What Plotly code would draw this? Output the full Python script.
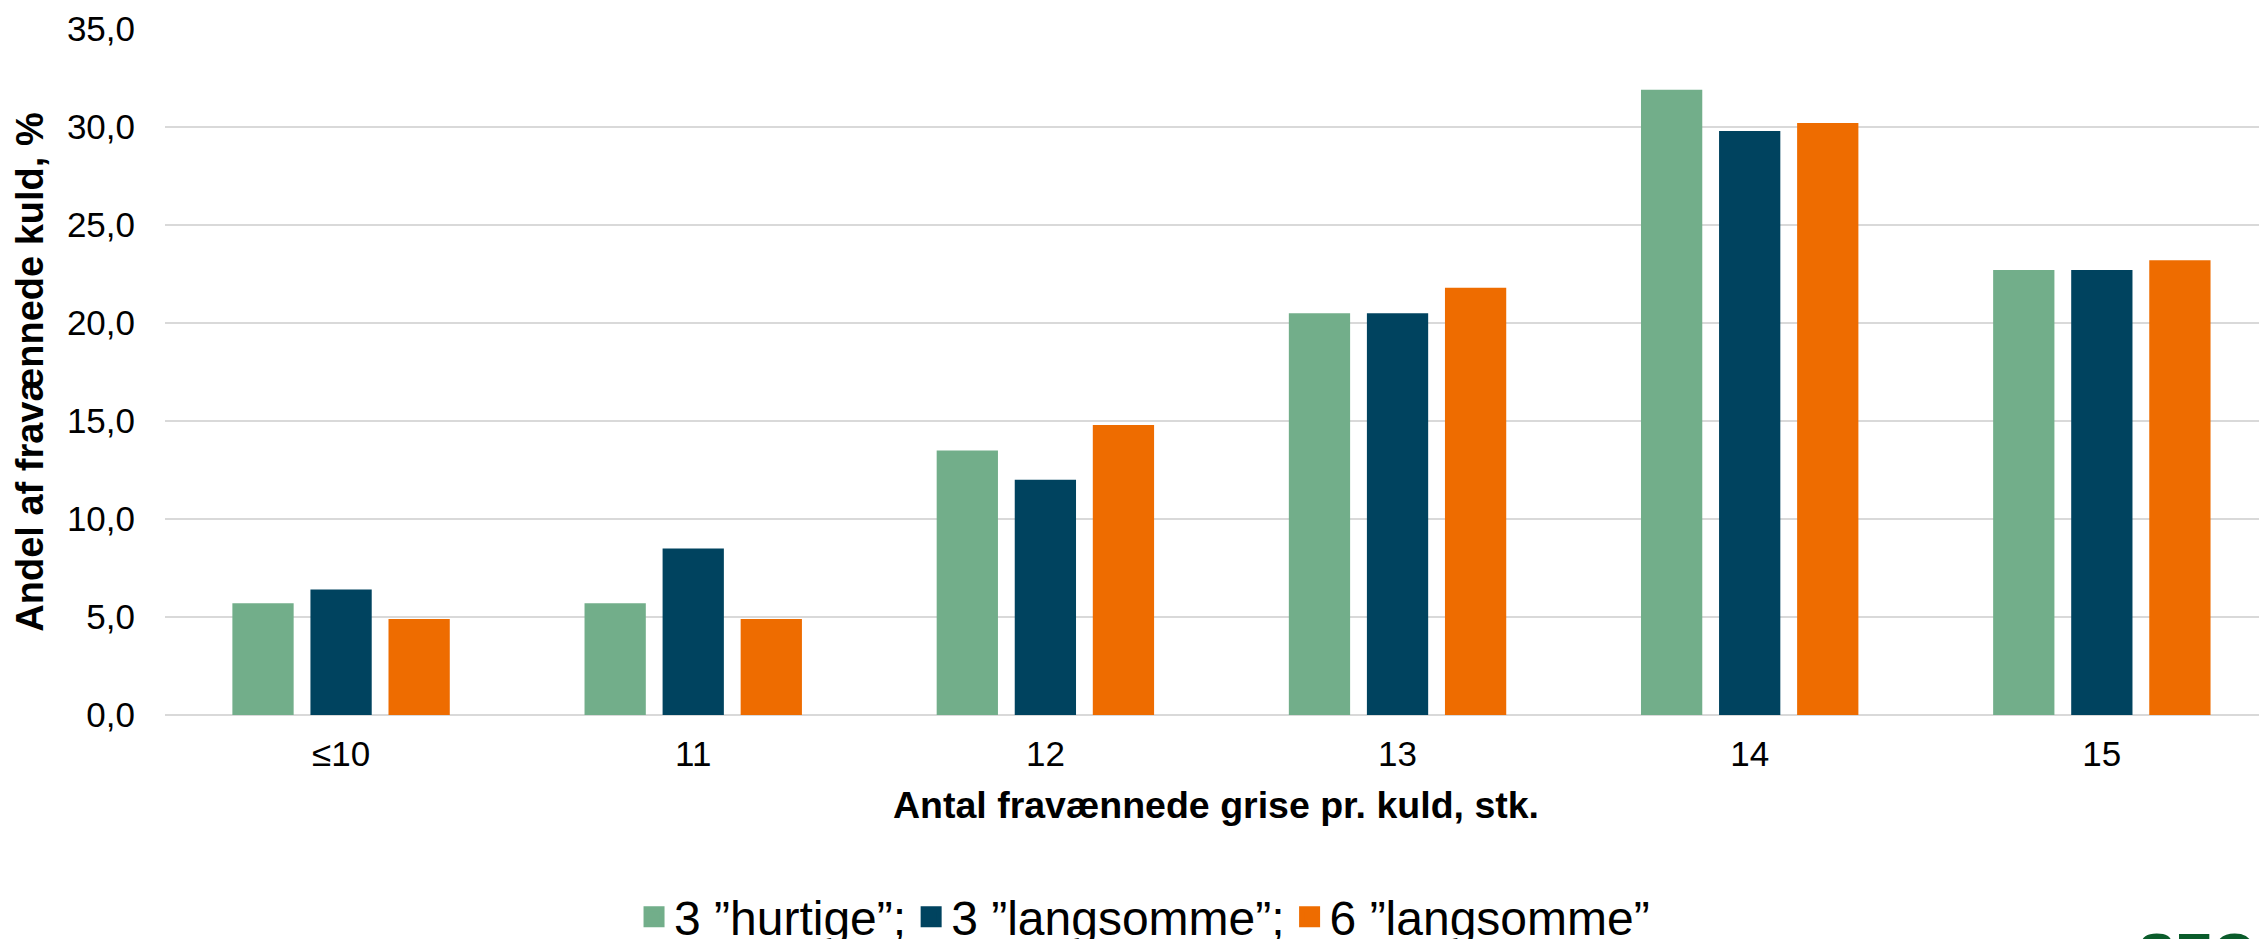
import plotly.graph_objects as go

categories = ["≤10", "11", "12", "13", "14", "15"]
series_names = ["3 ”hurtige”;", "3 ”langsomme”;", "6 ”langsomme”"]
hurtige_3 = [5.7, 5.7, 13.5, 20.5, 31.9, 22.7]
langsomme_3 = [6.4, 8.5, 12.0, 20.5, 29.8, 22.7]
langsomme_6 = [4.9, 4.9, 14.8, 21.8, 30.2, 23.2]
y_ticks = [0, 5, 10, 15, 20, 25, 30, 35]

colors = ["#72AE8A", "#00435F", "#EE6C00"]
FONT = "Liberation Sans, Arial, sans-serif"

fig = go.Figure()
for name, vals, col in zip(series_names, [hurtige_3, langsomme_3, langsomme_6], colors):
    fig.add_trace(go.Bar(x=categories, y=vals, name=name, marker=dict(color=col, line=dict(width=0)),
                         showlegend=False))
# legend entries with larger square symbols
for name, col in zip(series_names, colors):
    fig.add_trace(go.Scatter(x=[None], y=[None], mode="markers", name=name,
                             marker=dict(symbol="square", size=16, color=col,
                                         line=dict(color=col, width=5))))

# the page body adds an 8px offset; size the figure to end at the window edge
fig.update_layout(
    width=2259, height=931,
    margin=dict(l=157, r=0, t=21, b=224, autoexpand=False),
    paper_bgcolor="white", plot_bgcolor="white",
    barmode="group", bargap=0.335, bargroupgap=0.215,
    separators=",.",
    font=dict(family=FONT, color="#000000", size=35),
    legend=dict(orientation="h", x=0.466, xanchor="center", y=-0.2945, yanchor="middle",
                font=dict(size=48, family=FONT, color="#000000"), itemsizing="trace",
                bgcolor="rgba(0,0,0,0)"),
    showlegend=True,
)
fig.update_xaxes(
    type="category", range=[-0.5, 5.469], automargin=False,
    showgrid=False, showline=False, zeroline=False,
    ticks="outside", ticklen=8, tickcolor="rgba(0,0,0,0)",
    tickfont=dict(size=35, family=FONT, color="#000000"),
    title=dict(text="Antal fravænnede grise pr. kuld, stk.", standoff=19,
               font=dict(size=37.5, family=FONT, color="#000000", weight="bold")),
)
fig.update_yaxes(
    range=[0, 35], tickvals=y_ticks, tickformat=".1f", automargin=False,
    showgrid=True, gridcolor="#D9D9D9", gridwidth=2,
    zeroline=True, zerolinecolor="#D9D9D9", zerolinewidth=2, showline=False,
    ticks="outside", ticklen=22, tickcolor="rgba(0,0,0,0)",
    tickfont=dict(size=35, family=FONT, color="#000000"),
    title=dict(text="Andel af fravænnede kuld, %", standoff=11,
               font=dict(size=38, family=FONT, color="#000000", weight="bold")),
)
fig.add_annotation(text="SEGES", xref="paper", yref="paper", x=(2128 - 157) / 2102, y=-0.298,
                   xanchor="left", yanchor="top", showarrow=False,
                   font=dict(size=56, family=FONT, color="#0A5C2B", weight="bold"))

fig.write_html("out.html")
